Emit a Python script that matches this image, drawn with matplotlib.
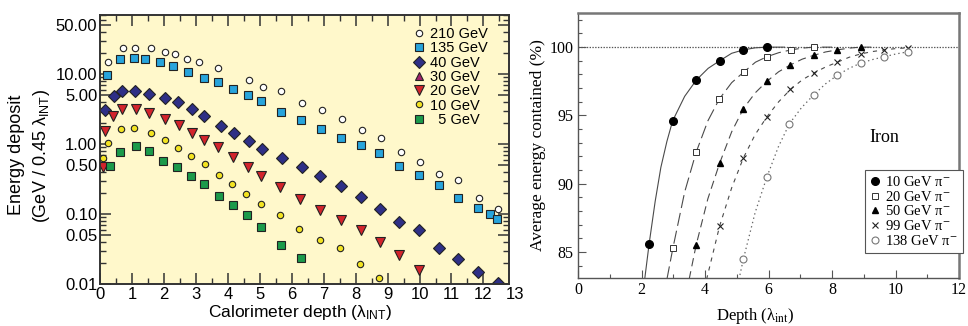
import matplotlib
matplotlib.use("Agg")
import matplotlib.pyplot as plt
from matplotlib.ticker import FixedLocator, FormatStrFormatter, LogLocator, NullFormatter, MultipleLocator

W, H = 968, 326

# ---- left panel: energy deposit per 0.45 lambda_INT slice ----
e210_x = [0.26, 0.73, 1.10, 1.59, 2.03, 2.35, 2.71, 3.10, 3.70, 4.67, 5.11, 5.68, 6.33, 6.96,
          7.58, 8.19, 8.78, 9.41, 10.01, 10.62, 11.21, 11.85, 12.45]
e210_y = [14.7, 24.0, 24.0, 24.0, 20.8, 19.3, 16.7, 14.8, 12.2, 8.2, 6.6, 5.7, 3.81, 3.06,
          2.25, 1.58, 1.21, 0.776, 0.558, 0.373, 0.303, 0.168, 0.119]
e135_x = [0.21, 0.64, 1.07, 1.42, 1.88, 2.30, 2.74, 3.26, 3.70, 4.17, 4.64, 5.05, 5.68, 6.30,
          6.91, 7.53, 8.16, 8.73, 9.37, 9.98, 10.60, 11.21, 11.82, 12.19, 12.43]
e135_y = [9.7, 16.4, 17.1, 16.7, 15.0, 13.1, 10.9, 8.9, 7.6, 6.2, 4.96, 4.11, 2.83, 2.20,
          1.64, 1.22, 0.968, 0.752, 0.485, 0.361, 0.26, 0.167, 0.123, 0.100, 0.085]
e40_x = [0.16, 0.43, 0.68, 1.10, 1.52, 2.04, 2.45, 2.87, 3.26, 3.79, 4.20, 4.65, 5.08, 5.69,
         6.33, 6.89, 7.53, 8.16, 8.75, 9.37, 9.99, 10.60, 11.20, 11.83, 12.45]
e40_y = [3.06, 4.85, 5.7, 5.8, 5.13, 4.49, 3.98, 3.13, 2.51, 1.83, 1.45, 1.10, 0.857, 0.637,
         0.464, 0.352, 0.254, 0.173, 0.117, 0.0769, 0.059, 0.0324, 0.0228, 0.015, 0.0104]
e30_x = []
e30_y = []
e20_x = [0.08, 0.16, 0.42, 0.69, 1.13, 1.52, 2.04, 2.46, 2.87, 3.24, 3.68, 4.15, 4.62, 5.04,
         5.64, 6.25, 6.89, 7.53, 8.16, 8.75, 9.37, 9.99]
e20_y = [0.474, 1.53, 2.51, 3.13, 3.13, 2.74, 2.25, 1.87, 1.42, 1.14, 0.896, 0.645, 0.474, 0.352,
         0.240, 0.164, 0.114, 0.082, 0.059, 0.040, 0.026, 0.0158]
e10_x = [0.08, 0.24, 0.66, 1.07, 1.59, 2.03, 2.43, 2.84, 3.28, 3.73, 4.13, 4.58, 5.03, 5.63,
         6.23, 6.88, 7.50, 8.14, 8.73]
e10_y = [0.637, 1.02, 1.62, 1.71, 1.45, 1.14, 0.885, 0.681, 0.513, 0.361, 0.265, 0.191, 0.139,
         0.0968, 0.061, 0.0425, 0.033, 0.0193, 0.0121]
e5_x = [0.32, 0.64, 1.13, 1.52, 1.96, 2.41, 2.84, 3.26, 3.71, 4.15, 4.59, 5.03, 5.67, 6.28]
e5_y = [0.49, 0.776, 0.936, 0.787, 0.577, 0.469, 0.352, 0.271, 0.179, 0.133, 0.0957, 0.0652,
        0.036, 0.0233]
left_labels = ["210 GeV", "135 GeV", "40 GeV", "30 GeV", "20 GeV", "10 GeV", "  5 GeV"]
left_yticks = [0.01, 0.05, 0.10, 0.50, 1.00, 5.00, 10.00, 50.00]

# ---- right panel: containment vs depth, iron ----
p10_x = [2.24, 2.98, 3.73, 4.46, 5.21, 5.95]
p10_y = [85.6, 94.6, 97.6, 99.0, 99.8, 100.0]
p20_x = [2.99, 3.72, 4.45, 5.23, 5.95, 6.71, 7.42]
p20_y = [85.3, 92.3, 96.2, 98.2, 99.3, 99.8, 100.0]
p50_x = [3.72, 4.46, 5.21, 5.95, 6.69, 7.42, 8.17, 8.90]
p50_y = [85.5, 91.5, 95.5, 97.5, 98.7, 99.4, 99.8, 100.0]
p99_x = [4.46, 5.21, 5.95, 6.69, 7.42, 8.17, 8.90, 9.65, 10.40]
p99_y = [86.9, 91.9, 94.9, 96.9, 98.1, 98.9, 99.5, 99.8, 99.95]
p138_x = [5.21, 5.95, 6.66, 7.42, 8.17, 8.92, 9.65, 10.40]
p138_y = [84.5, 90.5, 94.4, 96.5, 97.95, 98.85, 99.3, 99.66]

# fitted curves
f10_x = [2.10, 2.24, 2.43, 2.61, 2.80, 2.98, 3.36, 3.73, 4.10, 4.46, 4.84, 5.21, 5.58, 5.95, 6.5]
f10_y = [83.0, 85.6, 88.7, 91.2, 93.1, 94.6, 96.4, 97.6, 98.45, 99.0, 99.55, 99.8, 99.95, 100.0, 100.0]
f20_x = [2.80, 2.99, 3.36, 3.72, 4.09, 4.45, 4.84, 5.23, 5.59, 5.95, 6.33, 6.71, 7.07, 7.42, 8.0]
f20_y = [83.0, 85.3, 89.4, 92.3, 94.6, 96.2, 97.4, 98.2, 98.9, 99.3, 99.6, 99.8, 99.93, 100.0, 100.0]
f50_x = [3.50, 3.72, 4.09, 4.46, 4.84, 5.21, 5.58, 5.95, 6.32, 6.69, 7.06, 7.42, 7.80, 8.17,
         8.54, 8.90, 9.4]
f50_y = [83.0, 85.5, 88.9, 91.5, 93.8, 95.5, 96.65, 97.5, 98.2, 98.7, 99.12, 99.4, 99.65, 99.8,
         99.93, 100.0, 100.0]
f99_x = [4.05, 4.46, 4.84, 5.21, 5.58, 5.95, 6.32, 6.69, 7.06, 7.42, 7.80, 8.17, 8.54, 8.90,
         9.28, 9.65, 10.03, 10.40]
f99_y = [83.0, 86.9, 89.7, 91.9, 93.6, 94.9, 96.0, 96.9, 97.6, 98.1, 98.55, 98.9, 99.26, 99.5,
         99.68, 99.8, 99.9, 99.95]
f138_x = [5.07, 5.21, 5.58, 5.95, 6.31, 6.66, 7.04, 7.42, 7.80, 8.17, 8.55, 8.92, 9.29, 9.65,
          10.03, 10.40]
f138_y = [83.0, 84.5, 87.9, 90.5, 92.7, 94.4, 95.57, 96.5, 97.32, 97.95, 98.46, 98.85, 99.1,
          99.3, 99.51, 99.66]
right_labels = ["10 GeV π$^{-}$", "20 GeV π$^{-}$", "50 GeV π$^{-}$", "99 GeV π$^{-}$",
                "138 GeV π$^{-}$"]

plt.rcParams["font.family"] = ["Liberation Sans", "DejaVu Sans"]
plt.rcParams["mathtext.fontset"] = "custom"
plt.rcParams["mathtext.rm"] = "Liberation Sans"
plt.rcParams["mathtext.it"] = "Liberation Sans:italic"
plt.rcParams["lines.scale_dashes"] = False
SERIF = ["Liberation Serif", "DejaVu Serif"]

fig = plt.figure(figsize=(W / 100, H / 100), dpi=100)

# ================= left =================
axL = fig.add_axes([100 / W, 1 - 284 / H, 409 / W, 269 / H])
axL.set_facecolor("#fff8cb")
edge = "#222222"
series = [
    (e210_x, e210_y, "o", "white", 4.6),
    (e135_x, e135_y, "s", "#27a4dc", 5.6),
    (e40_x, e40_y, "D", "#2e2f86", 6.0),
    (e30_x, e30_y, "^", "#a2236c", 6.4),
    (e20_x, e20_y, "v", "#d3242c", 6.6),
    (e10_x, e10_y, "o", "#f3e321", 4.6),
    (e5_x, e5_y, "s", "#1b9a4b", 5.6),
]
for (sx, sy, mk, fc, ms), lab in zip(series, left_labels):
    axL.plot(sx, sy, ls="none", marker=mk, ms=ms, mfc=fc, mec=edge, mew=0.8, label=lab)

axL.set_yscale("log")
axL.set_xlim(0, 12.8)
axL.set_ylim(0.01, 70)
axL.yaxis.set_major_locator(FixedLocator(left_yticks))
axL.yaxis.set_major_formatter(FormatStrFormatter("%.2f"))
axL.yaxis.set_minor_locator(LogLocator(base=10, subs=range(2, 10), numticks=20))
axL.yaxis.set_minor_formatter(NullFormatter())
axL.xaxis.set_major_locator(MultipleLocator(1))
axL.xaxis.set_minor_locator(MultipleLocator(0.5))
axL.tick_params(which="both", direction="in", top=True, right=True, color="#333333",
                labelsize=12, pad=2)
axL.tick_params(which="major", length=8, width=1.1)
axL.tick_params(which="minor", length=4, width=1.0)
for s in axL.spines.values():
    s.set_color("#333333")
    s.set_linewidth(1.4)
axL.text(13, -0.012, "13", transform=axL.get_xaxis_transform(), ha="center", va="top",
         fontsize=12)

leg = axL.legend(loc="upper left", bbox_to_anchor=(0.77, 0.955), frameon=False, fontsize=10.5,
                 handlelength=0.6, handletextpad=0.45, labelspacing=0.02, borderpad=0,
                 borderaxespad=0)

fig.text(300 / W, 1 - 313 / H, "Calorimeter depth (λ$_\\mathrm{INT}$)", ha="center", va="center",
         fontsize=12.5)
fig.text(17 / W, 1 - 155 / H, "Energy deposit", rotation=90, ha="center", va="center",
         fontsize=13)
fig.text(41 / W, 1 - 156 / H, "(GeV / 0.45 λ$_\\mathrm{INT}$)", rotation=90, ha="center",
         va="center", fontsize=13)

# ================= right =================
axR = fig.add_axes([578 / W, 1 - 278 / H, 381 / W, 265 / H])
axR.set_xlim(0, 12)
axR.set_ylim(83.1, 102.5)
axR.axhline(100, color="#555555", ls=(0, (1, 1)), lw=0.9, zorder=1)

line_c = "#4a4a4a"
axR.plot(f10_x, f10_y, color=line_c, lw=0.8, ls="-", zorder=2)
axR.plot(f20_x, f20_y, color=line_c, lw=0.8, ls=(0, (9.5, 3.6)), zorder=2)
axR.plot(f50_x, f50_y, color=line_c, lw=0.8, ls=(0, (6, 3.6)), zorder=2)
axR.plot(f99_x, f99_y, color=line_c, lw=0.8, ls=(0, (3, 3.6)), zorder=2)
axR.plot(f138_x, f138_y, color="#666666", lw=0.9, ls=(0, (1, 2.2)), zorder=2)

h10, = axR.plot(p10_x, p10_y, ls="none", marker="o", ms=5.5, mfc="black", mec="black", zorder=3)
h20, = axR.plot(p20_x, p20_y, ls="none", marker="s", ms=4.3, mfc="white", mec="#333333",
                mew=0.7, zorder=3)
h50, = axR.plot(p50_x, p50_y, ls="none", marker="^", ms=4.5, mfc="black", mec="black", zorder=3)
h99, = axR.plot(p99_x, p99_y, ls="none", marker="x", ms=4.5, mec="#222222", mew=0.8, zorder=3)
h138, = axR.plot(p138_x, p138_y, ls="none", marker="o", ms=5, mfc="white", mec="#777777",
                 mew=0.8, zorder=3)

legR = axR.legend([h10, h20, h50, h99, h138], right_labels, loc="upper left",
                  bbox_to_anchor=(0.753, 0.408), fancybox=False, edgecolor="#555555",
                  framealpha=1, prop={"family": SERIF, "size": 10.5}, handlelength=0.7,
                  handletextpad=0.3, labelspacing=0.05, borderpad=0.35, borderaxespad=0)
legR.get_frame().set_linewidth(0.8)
for t in legR.get_texts():
    t.set_math_fontfamily("stix")

axR.text(0.805, 0.532, "Iron", transform=axR.transAxes, ha="center", va="center",
         family=SERIF, fontsize=13)

axR.xaxis.set_major_locator(MultipleLocator(2))
axR.xaxis.set_minor_locator(MultipleLocator(1))
axR.yaxis.set_major_locator(MultipleLocator(5))
axR.yaxis.set_minor_locator(MultipleLocator(1))
axR.tick_params(which="both", direction="in", color="#555555", labelsize=11.5, pad=3)
axR.tick_params(which="major", length=6, width=0.8)
axR.tick_params(which="minor", length=3, width=0.8)
for lab in axR.get_xticklabels() + axR.get_yticklabels():
    lab.set_family(SERIF)
for side, s in axR.spines.items():
    if side in ("top", "right"):
        s.set_color("#777777")
        s.set_linewidth(1.8)
    else:
        s.set_color("#555555")
        s.set_linewidth(1.0)

fig.text(755 / W, 1 - 316 / H, "Depth (λ$_\\mathrm{int}$)", ha="center", va="center",
         family=SERIF, fontsize=12, math_fontfamily="stix")
fig.text(538 / W, 1 - 145 / H, "Average energy contained (%)", rotation=90, ha="center",
         va="center", family=SERIF, fontsize=12.5)

fig.savefig("out.png", dpi=100)
